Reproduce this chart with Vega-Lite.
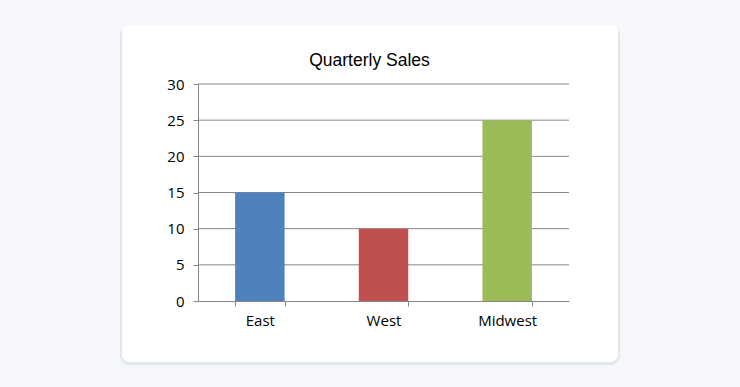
{
  "$schema": "https://vega.github.io/schema/vega-lite/v6.json",
  "autosize": {"type": "none"},
  "width": 371,
  "height": 217,
  "padding": {"left": 198, "top": 84, "right": 171, "bottom": 86},
  "background": "#f5f7fa",
  "title": {
    "text": "Quarterly Sales",
    "font": "Liberation Sans",
    "fontSize": 17.5,
    "fontWeight": "normal",
    "color": "#000000",
    "anchor": "middle",
    "dx": -14,
    "offset": -44
  },
  "config": {
    "view": {"stroke": null},
    "axis": {
      "labelFont": "Open Sans",
      "labelFontSize": 15,
      "labelColor": "#000000",
      "domainColor": "#868686",
      "tickColor": "#868686",
      "gridColor": "#868686",
      "titleFont": "Open Sans",
      "labelOverlap": false
    }
  },
  "datasets": {
    "sales": [
      {"region": "East", "sales": 15},
      {"region": "West", "sales": 10},
      {"region": "Midwest", "sales": 25}
    ],
    "grid": [
      {"level": 5}, {"level": 10}, {"level": 15}, {"level": 20}, {"level": 25}, {"level": 30}
    ]
  },
  "layer": [
    {
      "data": {"name": "sales"},
      "mark": {"type": "rect", "cornerRadius": 10, "color": "#e3e6ea", "opacity": 0.6},
      "encoding": {
        "x": {"value": -78},
        "x2": {"value": 422},
        "y": {"value": -58},
        "y2": {"value": 281}
      }
    },
    {
      "data": {"name": "sales"},
      "mark": {"type": "rect", "cornerRadius": 8, "color": "#ffffff"},
      "encoding": {
        "x": {"value": -76},
        "x2": {"value": 420},
        "y": {"value": -59},
        "y2": {"value": 278}
      }
    },
    {
      "data": {"name": "grid"},
      "mark": {"type": "rule", "color": "#868686", "strokeWidth": 1},
      "encoding": {
        "y": {
          "field": "level",
          "type": "quantitative",
          "scale": {"domain": [0, 30]},
          "axis": {
            "title": null,
            "values": [0, 5, 10, 15, 20, 25, 30],
            "tickSize": 5,
            "labelPadding": 9,
            "grid": false,
            "zindex": 1
          }
        }
      }
    },
    {
      "data": {"name": "sales"},
      "mark": {"type": "bar"},
      "encoding": {
        "x": {
          "field": "region",
          "type": "nominal",
          "sort": ["East", "West", "Midwest"],
          "scale": {"paddingInner": 0.6, "paddingOuter": 0.3},
          "axis": {
            "title": null,
            "labelAngle": 0,
            "tickBand": "extent",
            "tickSize": 5,
            "labelPadding": 7,
            "zindex": 1
          }
        },
        "y": {
          "field": "sales",
          "type": "quantitative",
          "scale": {"domain": [0, 30]},
          "axis": {
            "title": null,
            "values": [0, 5, 10, 15, 20, 25, 30],
            "tickSize": 5,
            "labelPadding": 9,
            "grid": false,
            "zindex": 1
          }
        },
        "color": {
          "field": "region",
          "type": "nominal",
          "scale": {"domain": ["East", "West", "Midwest"], "range": ["#4f81bd", "#c0504d", "#9bbb59"]},
          "legend": null
        }
      }
    }
  ]
}
